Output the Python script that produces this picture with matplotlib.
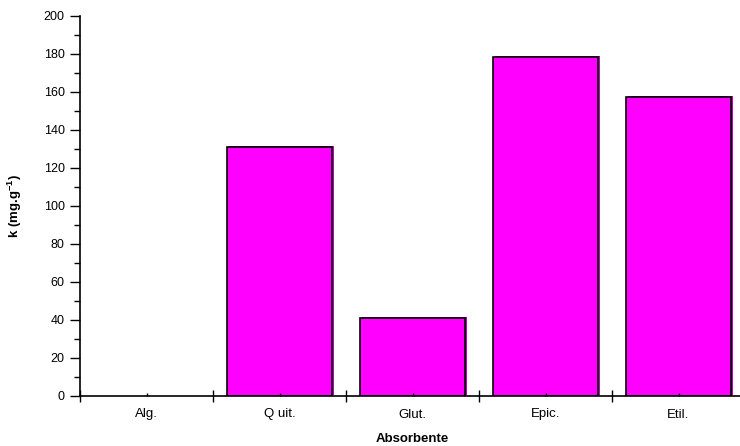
import matplotlib
matplotlib.use("Agg")
import matplotlib.pyplot as plt
import matplotlib.patheffects as pe
import numpy as np

# Data
categories = ["Alg.", "Q uit.", "Glut.", "Epic.", "Etil."]
k_values = [0.0, 131.0, 41.0, 178.5, 157.5]

plt.rcParams["font.family"] = ["Liberation Sans", "DejaVu Sans"]
plt.rcParams["mathtext.fontset"] = "custom"
plt.rcParams["mathtext.rm"] = "Liberation Sans"
plt.rcParams["mathtext.bf"] = "Liberation Sans:bold"

fig = plt.figure(figsize=(7.4, 4.46), dpi=100)
ax = fig.add_axes([80 / 740, 1 - 396 / 446, 665 / 740, 380 / 446])

x = np.arange(len(categories))
bars = ax.bar(x, k_values, width=0.79, color="#ff00ff", edgecolor="black", linewidth=1.2)
for b, v in zip(bars, k_values):
    if v <= 0:
        b.set_visible(False)
        continue
    b.set_path_effects([
        pe.SimplePatchShadow(offset=(1.6, 0.8), shadow_rgbFace="#c000c0", alpha=1.0),
        pe.Normal(),
    ])

ax.set_xlim(-0.5, len(categories) - 0.5)
ax.set_ylim(0, 200)

ax.set_yticks(np.arange(0, 201, 20))
ax.set_yticks(np.arange(0, 201, 10), minor=True)
ax.tick_params(axis="y", which="major", direction="out", length=7, width=1, labelsize=9, pad=4)
ax.tick_params(axis="y", which="minor", direction="out", length=4, width=1)

# category boundaries as major ticks, labels at centres
edges = np.arange(-0.5, len(categories), 1.0)
ax.set_xticks(edges)
ax.set_xticklabels([""] * len(edges))
ax.set_xticks(x, minor=True)
ax.set_xticklabels(categories, minor=True)
ax.tick_params(axis="x", which="major", direction="inout", length=8, width=1)
ax.tick_params(axis="x", which="minor", direction="in", length=2, width=1, labelsize=9.5, pad=9)

for side in ("top", "right"):
    ax.spines[side].set_visible(False)
for side in ("left", "bottom"):
    ax.spines[side].set_linewidth(1.2)
ax.spines["bottom"].set_zorder(5)

ax.set_xlabel("Absorbente", fontsize=9.5, fontweight="bold", labelpad=9)
ax.set_ylabel(r"k (mg.g$^{\mathbf{-1}}$)", fontsize=9.5, fontweight="bold", labelpad=14)

fig.savefig("out.png", dpi=100)
